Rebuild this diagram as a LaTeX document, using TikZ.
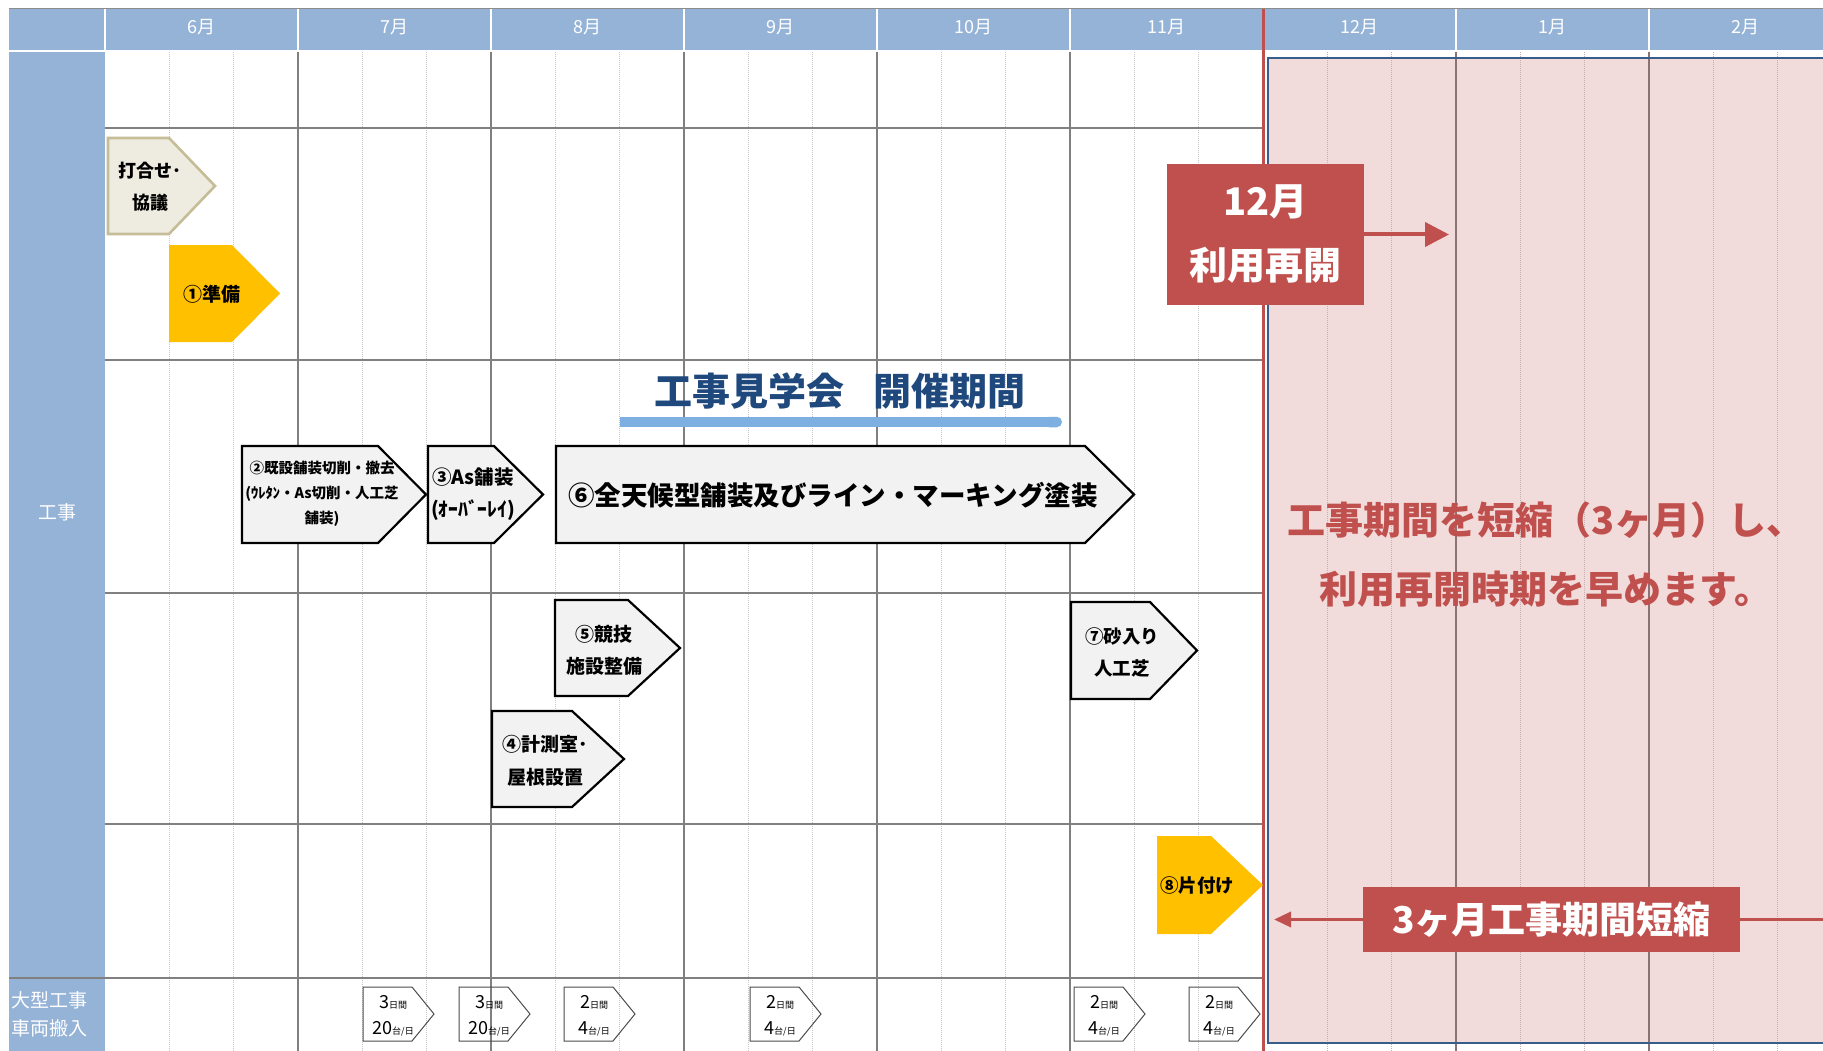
\documentclass[tikz,border=0pt]{standalone}
\usepackage{fontspec}
\setmainfont{Noto Sans CJK JP}
\usepackage{tikz}
\usetikzlibrary{arrows.meta}
\definecolor{HeadBlue}{RGB}{149,179,215}
\definecolor{TaskGray}{RGB}{242,242,242}
\definecolor{MeetFill}{RGB}{238,236,225}
\definecolor{MeetLine}{RGB}{196,189,151}
\definecolor{PrepYellow}{RGB}{255,192,0}
\definecolor{AlertRed}{RGB}{192,80,77}
\definecolor{ShortPink}{RGB}{242,220,219}
\definecolor{PinkMonth}{RGB}{140,115,115}
\definecolor{PinkSub}{RGB}{196,176,176}
\definecolor{FrameBlue}{RGB}{56,93,138}
\definecolor{TitleBlue}{RGB}{31,73,125}
\definecolor{TourBlue}{RGB}{125,175,225}

\begin{document}
\begin{tikzpicture}[x=1pt, y=-1pt,
        monthtext/.style={text=white, font=\fontsize{18}{18}\selectfont, inner sep=0pt},
        sidetext/.style={text=white, font=\fontsize{19}{28}\selectfont, align=left, inner sep=0pt},
        monthline/.style={draw=black!50, line width=1.5pt},
        subline/.style={draw=black!22, line width=1pt, densely dotted},
        pinkmonth/.style={draw=PinkMonth, line width=1.5pt},
        pinksub/.style={draw=PinkSub, line width=1pt, densely dotted},
        rowline/.style={draw=black!50, line width=2pt},
        task/.style={draw=black, line width=2.2pt, fill=TaskGray},
        meet/.style={draw=MeetLine, line width=2.6pt, fill=MeetFill},
        tasktext/.style 2 args={align=center, inner sep=0pt, font=\bfseries\fontsize{#1}{#2}\selectfont},
        redbox/.style={fill=AlertRed, text=white, align=center, inner sep=0pt, outer sep=0pt},
        redarrow/.style={draw=AlertRed, line width=#1},
        truck/.style={draw=black!70, line width=1pt},
        trucktext/.style={inner sep=0pt, font=\fontsize{18}{18}\selectfont}
    ]
        \useasboundingbox (0,0) rectangle (1823,1051);
        \fill[white] (0,0) rectangle (1823,1051);

        % header and side column
        \fill[HeadBlue] (9,9) rectangle (1823,50);
        \draw[black!45, line width=1pt] (9,9) -- (1823,9);
        \fill[HeadBlue] (9,52) rectangle (105,1051);
        \foreach \m [count=\i from 0] in {6,7,8,9,10,11,12,1,2}{
            \draw[white, line width=1.5pt] ({105+193*\i},9) -- ({105+193*\i},50);
            \node[monthtext] (mon\i) at ({201.5+193*\i},27) {{\m}月};
        }
        \node[monthtext, font=\fontsize{19}{19}\selectfont] (koji) at (57,512) {工事};
        \node[sidetext, anchor=west] (truckside) at (11,1014) {大型工事\\車両搬入};

        % shortened period
        \fill[ShortPink] (1268,58) rectangle (1823,1043);

        % grid
        \foreach \i in {0,...,5}{
            \foreach \j in {1,2}
                \draw[subline] ({105+193*\i+64.33*\j},52) -- ++(0,999);
        }
        \foreach \i in {1,...,5}
            \draw[monthline] ({105+193*\i},52) -- ++(0,999);
        \foreach \i in {6,7,8}{
            \foreach \j in {1,2}
                \draw[pinksub] ({105+193*\i+64.33*\j},52) -- ++(0,999);
        }
        \foreach \i in {7,8}
            \draw[pinkmonth] ({105+193*\i},52) -- ++(0,999);
        \foreach \y in {128,360,593,824,978}
            \draw[rowline] (105,\y) -- (1263,\y);
        \draw[rowline] (9,978) -- (105,978);
        \draw[FrameBlue, line width=2.5pt] (1823,58) -- (1268,58) -- (1268,1043) -- (1823,1043);
        \draw[AlertRed, line width=3pt] (1263,9) -- (1263,1051);

        % tasks
        \draw[meet] (108,138) -- (169,138) -- (215,186) -- (169,234) -- (108,234) -- cycle;
        \node[tasktext={18}{32}] (meettxt) at (150,187) {打合せ･\\協議};
        \fill[PrepYellow] (169,245) -- (232,245) -- (280,293.5) -- (232,342) -- (169,342) -- cycle;
        \node[tasktext={19}{20}] (preptxt) at (212,294) {①準備};

        \draw[task] (242,446) -- (378,446) -- (426,494.5) -- (378,543) -- (242,543) -- cycle;
        \node[tasktext={14.5}{25}] (cuttxt) at (322,494) {②既設舗装切削・撤去\\(ｳﾚﾀﾝ・As切削・人工芝\\舗装)};
        \draw[task] (428,446) -- (494,446) -- (543,494.5) -- (494,543) -- (428,543) -- cycle;
        \node[tasktext={19.5}{32}] (pavetxt) at (473,494) {③As舗装\\(ｵｰﾊﾞｰﾚｲ)};
        \draw[task] (556,446) -- (1085,446) -- (1134,494.5) -- (1085,543) -- (556,543) -- cycle;
        \node[tasktext={26.5}{26}] (coattxt) at (833,495) {⑥全天候型舗装及びライン・マーキング塗装};

        \draw[task] (555,600) -- (628,600) -- (680,648) -- (628,696) -- (555,696) -- cycle;
        \node[tasktext={19}{32}] (facilitxt) at (604,650) {⑤競技\\施設整備};
        \draw[task] (492,711) -- (572,711) -- (624,759) -- (572,807) -- (492,807) -- cycle;
        \node[tasktext={19}{33}] (roomtxt) at (545,761) {④計測室･\\屋根設置};
        \draw[task] (1071,602) -- (1150,602) -- (1197,650.5) -- (1150,699) -- (1071,699) -- cycle;
        \node[tasktext={18.5}{32}] (sandtxt) at (1122,652) {⑦砂入り\\人工芝};
        \fill[PrepYellow] (1157,836) -- (1211,836) -- (1263,885) -- (1211,934) -- (1157,934) -- cycle;
        \node[tasktext={18.5}{20}] (cleantxt) at (1197,886) {⑧片付け};

        % site tour
        \node[tasktext={38}{38}, text=TitleBlue] (tourtitle) at (840,391) {工事見学会\hspace{0.75em}開催期間};
        \coordinate (tourstart) at (620,422);
        \coordinate (tourend) at (1062,422);
        \draw[TourBlue, line width=10.5pt, -{Round Cap[]}] (tourstart) -- (tourend);

        % reopening
        \node[redbox, minimum width=197pt, minimum height=141pt, font=\bfseries\fontsize{38}{64}\selectfont] (reopen) at (1265.5,234.5) {12月\\利用再開};
        \coordinate (reopenend) at (1449,234.5);
        \draw[redarrow=4pt, -{Triangle[length=24pt,width=24pt]}] (reopen.east) -- (reopenend);

        \node[tasktext={38}{69}, text=AlertRed] (msg) at (1546,555) {工事期間を短縮（3ヶ月）し、\\利用再開時期を早めます。};

        \node[redbox, minimum width=377pt, minimum height=65pt, font=\bfseries\fontsize{37}{37}\selectfont] (shorten) at (1551.5,919.5) {3ヶ月工事期間短縮};
        \coordinate (shortleft) at (1274,919.5);
        \coordinate (shortright) at (1823,919.5);
        \draw[redarrow=3.5pt, -{Triangle[length=17pt,width=15pt]}] (shorten.west) -- (shortleft);
        \draw[redarrow=3.5pt] (shorten.east) -- (shortright);

        % large vehicles
        \foreach \xa/\nd/\nv [count=\k] in {363/3/20,459/3/20,564/2/4,750/2/4,1074/2/4,1189/2/4}{
            \draw[truck] (\xa,987) -- ++(49,0) -- ++(22,27) -- ++(-22,27) -- ++(-49,0) -- cycle;
            \node[trucktext] (days\k) at ({\xa+30},1002) {{\nd}{\fontsize{9}{9}\selectfont 日間}};
            \node[trucktext] (load\k) at ({\xa+30},1029) {{\nv}{\fontsize{9}{9}\selectfont 台/日}};
        }
    \end{tikzpicture}
\end{document}
